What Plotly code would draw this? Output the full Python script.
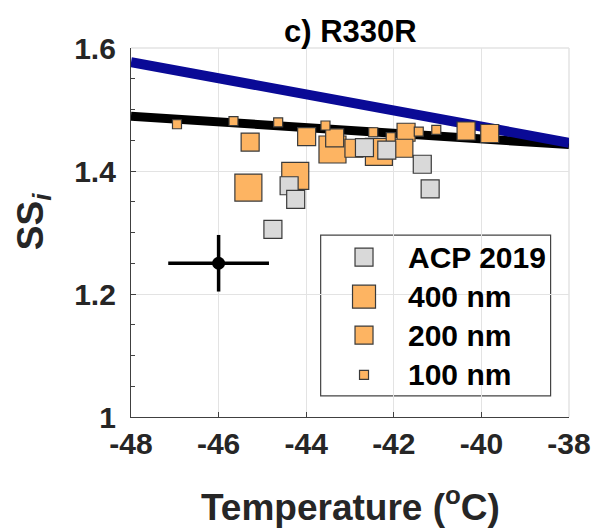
import plotly.graph_objects as go

# ---- data -------------------------------------------------------------
# homogeneous-freezing reference lines (temperature in degC, SS_i)
line_T = [-48, -38]
black_ss = [1.489, 1.443]
blue_ss = [1.577, 1.446]

# 400 nm particles
t400 = [-45.32, -44.25, -43.40, -42.34]
s400 = [1.373, 1.392, 1.435, 1.431]

# 200 nm particles
t200 = [-45.28, -43.99, -43.35, -42.91, -41.72, -41.77, -40.35, -39.81]
s200 = [1.447, 1.456, 1.454, 1.437, 1.463, 1.437, 1.465, 1.461]

# 100 nm particles
t100 = [-46.95, -45.66, -44.64, -43.56, -42.47, -42.07, -41.43, -41.03]
s100 = [1.476, 1.481, 1.479, 1.474, 1.463, 1.455, 1.464, 1.467]

# ACP 2019 data
tacp = [-44.39, -44.24, -44.76, -42.67, -42.16, -41.35, -41.17]
sacp = [1.376, 1.354, 1.305, 1.438, 1.434, 1.411, 1.371]

# typical uncertainty
err_T, err_S = [-46.0], [1.25]
err_dT, err_dS = [1.15], [0.046]

legend_labels = ["ACP 2019", "400 nm", "200 nm", "100 nm"]

x_ticks = [-48, -46, -44, -42, -40, -38]
x_ticktext = ["-48", "-46", "-44", "-42", "-40", "-38"]
y_ticks = [1.0, 1.2, 1.4, 1.6]
y_ticktext = ["1", "1.2", "1.4", "1.6"]

# ---- styles -----------------------------------------------------------
ORANGE = "#FDB462"
GREY = "#D9D9D9"
EDGE = "#3a3a3a"
TXT = "#262626"
FONT = "Liberation Sans"

fig = go.Figure()

fig.add_trace(go.Scatter(x=line_T, y=black_ss, mode="lines",
                         line=dict(color="black", width=9), hoverinfo="skip"))
fig.add_trace(go.Scatter(x=line_T, y=blue_ss, mode="lines",
                         line=dict(color="#0A0A96", width=10), hoverinfo="skip"))

def squares(x, y, size, color):
    return go.Scatter(x=x, y=y, mode="markers",
                      marker=dict(symbol="square", size=size, color=color,
                                  line=dict(color=EDGE, width=1.2)))

fig.add_trace(squares(t400, s400, 27, ORANGE))
fig.add_trace(squares(t200, s200, 18, ORANGE))
fig.add_trace(squares(t100, s100, 9, ORANGE))
fig.add_trace(squares(tacp, sacp, 18, GREY))

fig.add_trace(go.Scatter(
    x=err_T, y=err_S, mode="markers",
    marker=dict(color="black", size=13),
    error_x=dict(type="data", array=err_dT, color="black", thickness=3.5, width=0),
    error_y=dict(type="data", array=err_dS, color="black", thickness=3.5, width=0),
))

# ---- hand-drawn legend on an overlay unit axis ------------------------
leg_x = 0.532
leg_y = [0.433, 0.326, 0.222, 0.114]
leg_size = [18, 23, 18, 9]
leg_color = [GREY, ORANGE, ORANGE, ORANGE]
for yy, sz, col in zip(leg_y, leg_size, leg_color):
    fig.add_trace(go.Scatter(
        x=[leg_x], y=[yy], mode="markers", xaxis="x2", yaxis="y2",
        marker=dict(symbol="square", size=sz, color=col,
                    line=dict(color=EDGE, width=1.2))))

annotations = []
for yy, lab in zip(leg_y, legend_labels):
    annotations.append(dict(x=0.628, y=yy, xref="paper", yref="paper",
                            text=lab, showarrow=False, xanchor="left",
                            yanchor="middle",
                            font=dict(size=30, color="black", family=FONT,
                                      weight="bold")))

annotations.append(dict(x=0.5, y=1.045, xref="paper", yref="paper",
                        text="c) R330R", showarrow=False, xanchor="center",
                        yanchor="middle",
                        font=dict(size=31, color="black", family=FONT,
                                  weight="bold")))
annotations.append(dict(x=0.5, y=-0.238, xref="paper", yref="paper",
                        text="Temperature (<sup>o</sup>C)", showarrow=False,
                        xanchor="center", yanchor="middle",
                        font=dict(size=37, color=TXT, family=FONT,
                                  weight="bold")))
annotations.append(dict(x=-0.222, y=0.53, xref="paper", yref="paper",
                        text="SS<sub><i>i</i></sub>", showarrow=False,
                        textangle=-90, xanchor="center", yanchor="middle",
                        font=dict(size=37, color=TXT, family=FONT,
                                  weight="bold")))

shapes = [
    # legend frame
    dict(type="rect", xref="paper", yref="paper", x0=0.433, x1=0.958,
         y0=0.057, y1=0.493, line=dict(color="#444444", width=1.2),
         fillcolor="white", layer="between"),
    # light top / right frame
    dict(type="line", xref="paper", yref="paper", x0=0, x1=1, y0=1, y1=1,
         line=dict(color="#e3e3e3", width=1.5), layer="below"),
    dict(type="line", xref="paper", yref="paper", x0=1, x1=1, y0=0, y1=1,
         line=dict(color="#e3e3e3", width=1.5), layer="below"),
]

fig.update_layout(
    width=595, height=530,
    margin=dict(l=131, r=26, t=48, b=113),
    paper_bgcolor="white", plot_bgcolor="white",
    showlegend=False,
    font=dict(family=FONT, color=TXT, weight="bold"),
    annotations=annotations,
    shapes=shapes,
    xaxis=dict(range=[-48, -38], tickvals=x_ticks, ticktext=x_ticktext,
               ticks="inside", ticklen=5, automargin=False,
               tickcolor="#404040", showline=True, linecolor="#404040",
               linewidth=1.2, showgrid=True, gridcolor="#e3e3e3", gridwidth=1,
               zeroline=False, tickfont=dict(size=30, color=TXT),
               ticklabelstandoff=0),
    yaxis=dict(range=[1.0, 1.6], tickvals=y_ticks, ticktext=y_ticktext,
               ticks="inside", ticklen=5, tickcolor="#404040",
               automargin=False,
               showline=True, linecolor="#404040", linewidth=1.2,
               showgrid=True, gridcolor="#e3e3e3", gridwidth=1,
               zeroline=False, tickfont=dict(size=30, color=TXT),
               ticklabelstandoff=8,
               minor=dict(dtick=0.05, tick0=1.0, ticks="inside", ticklen=4,
                          tickcolor="#404040", showgrid=False)),
    xaxis2=dict(range=[0, 1], overlaying="x", visible=False),
    yaxis2=dict(range=[0, 1], overlaying="y", visible=False),
)

fig.write_html("out.html")
